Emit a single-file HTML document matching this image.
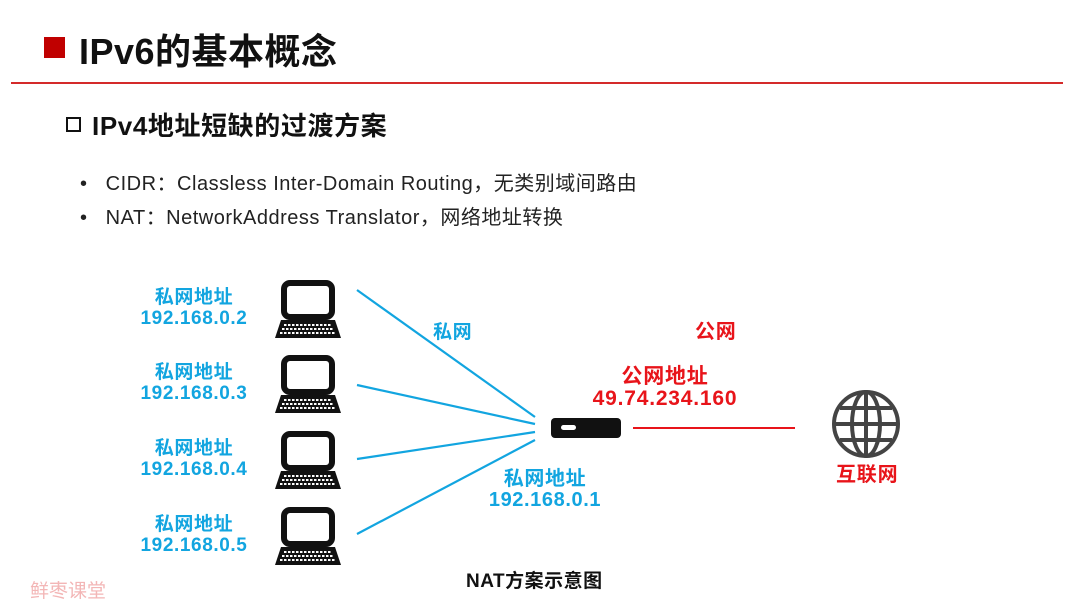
<!DOCTYPE html>
<html><head><meta charset="utf-8"><style>
body{margin:0;width:1080px;height:608px;background:#fff;position:relative;overflow:hidden;font-family:"Liberation Sans","Noto Sans CJK SC",sans-serif}
.a{position:absolute;white-space:nowrap}
.b{color:#12a5e0;font-weight:bold;font-size:19px;letter-spacing:0.6px;text-align:center;line-height:21px}
.r{color:#e8141a;font-weight:bold;font-size:20px;letter-spacing:0.8px;text-align:center;line-height:22px}
</style></head><body>
<div class="a" style="left:44px;top:37px;width:21px;height:21px;background:#c00000"></div>
<div class="a" style="left:79px;top:23px;font-size:36px;font-weight:bold;color:#111;letter-spacing:0.5px">IPv6的基本概念</div>
<div class="a" style="left:11px;top:82px;width:1052px;height:2px;background:#d42a2a"></div>
<div class="a" style="left:66px;top:117px;width:11px;height:11px;border:2px solid #111"></div>
<div class="a" style="left:92px;top:106px;font-size:26px;font-weight:bold;color:#111;letter-spacing:0.6px">IPv4地址短缺的过渡方案</div>
<div class="a" style="left:80px;top:167px;font-size:20px;color:#222;letter-spacing:0.5px">•&nbsp;&nbsp; CIDR：Classless Inter-Domain Routing，无类别域间路由</div>
<div class="a" style="left:80px;top:201px;font-size:20px;color:#222;letter-spacing:0.5px">•&nbsp;&nbsp; NAT：NetworkAddress Translator，网络地址转换</div>

<div class="a b" style="left:134px;top:287px;width:120px">私网地址<br>192.168.0.2</div>
<div class="a b" style="left:134px;top:362px;width:120px">私网地址<br>192.168.0.3</div>
<div class="a b" style="left:134px;top:438px;width:120px">私网地址<br>192.168.0.4</div>
<div class="a b" style="left:134px;top:514px;width:120px">私网地址<br>192.168.0.5</div>
<div class="a b" style="left:433px;top:322px">私网</div>
<div class="a b" style="left:470px;top:469px;width:150px;font-size:20px">私网地址<br>192.168.0.1</div>
<div class="a r" style="left:695px;top:321px">公网</div>
<div class="a r" style="left:580px;top:366px;width:170px;font-size:21px">公网地址<br>49.74.234.160</div>
<div class="a r" style="left:836px;top:464px">互联网</div>
<div class="a" style="left:466px;top:566px;font-size:19px;font-weight:bold;color:#111;letter-spacing:0.5px">NAT方案示意图</div>
<div class="a" style="left:30px;top:576px;font-size:19px;color:#f3b6b6">鲜枣课堂</div>

<svg class="a" style="left:0;top:0" width="1080" height="608">
<g stroke="#12a5e0" stroke-width="2.2">
<line x1="357" y1="290" x2="535" y2="417"/>
<line x1="357" y1="385" x2="535" y2="424"/>
<line x1="357" y1="459" x2="535" y2="432"/>
<line x1="357" y1="534" x2="535" y2="440"/>
</g>
<line x1="633" y1="428" x2="795" y2="428" stroke="#e8141a" stroke-width="2"/>
<rect x="551" y="418" width="70" height="20" rx="4" fill="#111"/>
<rect x="561" y="425" width="15" height="5" rx="2.5" fill="#fff"/>
<defs><g id="pc">
<rect x="284" y="0" width="48" height="34" rx="6" fill="none" stroke="#111" stroke-width="6"/>
<path d="M281 37 H335 L341 55 H275 Z" fill="#111"/>
<g stroke="#fff" stroke-width="2" stroke-dasharray="2.5 1.5"><line x1="284" y1="42" x2="332" y2="42"/><line x1="282" y1="46" x2="334" y2="46"/><line x1="280" y1="50" x2="336" y2="50"/></g>
</g></defs>
<use href="#pc" y="283"/><use href="#pc" y="358"/><use href="#pc" y="434"/><use href="#pc" y="510"/>
<g fill="none" stroke="#444" stroke-width="4">
<circle cx="866" cy="424" r="32"/>
<ellipse cx="866" cy="424" rx="14" ry="32"/>
<line x1="866" y1="392" x2="866" y2="456"/>
<line x1="834" y1="424" x2="898" y2="424"/>
<line x1="840" y1="408" x2="892" y2="408"/>
<line x1="840" y1="440" x2="892" y2="440"/>
</g>
</svg>
</body></html>
